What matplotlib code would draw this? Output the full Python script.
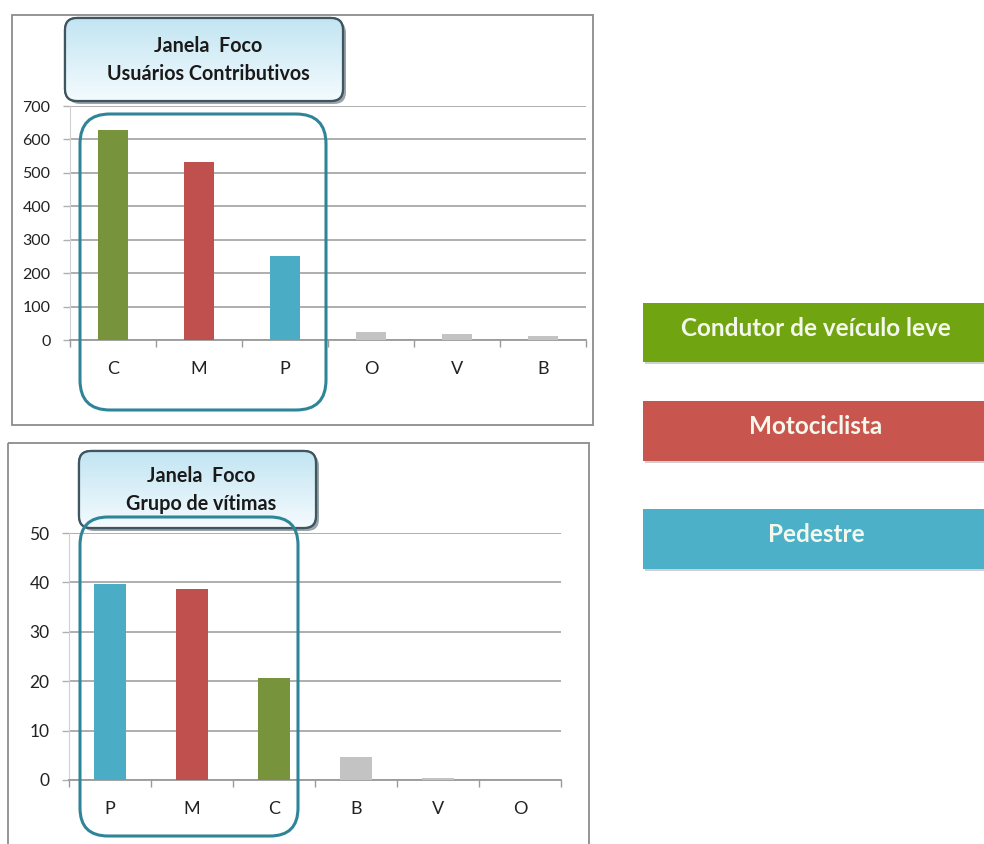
import numpy as np
import matplotlib
matplotlib.use("Agg")
import matplotlib.pyplot as plt
from matplotlib.patches import FancyBboxPatch, Rectangle
from matplotlib.colors import LinearSegmentedColormap

plt.rcParams['font.family'] = ['Lato', 'DejaVu Sans']

# ---- data ----
contrib_categories = ["C", "M", "P", "O", "V", "B"]
contrib_values = [628, 532, 250, 23, 17, 13]
contrib_ticks = [0, 100, 200, 300, 400, 500, 600, 700]

victim_categories = ["P", "M", "C", "B", "V", "O"]
victim_values = [39.6, 38.7, 20.6, 4.7, 0.5, 0]
victim_ticks = [0, 10, 20, 30, 40, 50]

legend_labels = ["Condutor de veículo leve", "Motociclista", "Pedestre"]

bar_colors = {"C": "#77933c", "M": "#c0504d", "P": "#4bacc6"}
other_color = "#c3c3c3"
legend_colors = ["#71a411", "#c9554f", "#4db0c9"]

W, H = 984, 844
fig = plt.figure(figsize=(W / 100, H / 100), dpi=100)
fig.patch.set_facecolor("white")


def px_rect(x0, y0, x1, y1):
    return [x0 / W, 1 - y1 / H, (x1 - x0) / W, (y1 - y0) / H]


# background layer in pixel units for the panel frames
bg = fig.add_axes([0, 0, 1, 1], zorder=0)
bg.set_xlim(0, W)
bg.set_ylim(H, 0)
bg.axis("off")

bg.add_patch(Rectangle((12, 15), 581, 410, fill=False, ec="#8c8c8c", lw=1.3))
bg.add_patch(Rectangle((8, 443), 581, 420, fill=False, ec="#8c8c8c", lw=1.3))


def draw_bars(rect, cats, vals, ticks, width, yfont):
    ax = fig.add_axes(rect, zorder=1)
    ax.set_facecolor("none")
    x = np.arange(len(cats))
    cols = [bar_colors.get(c, other_color) for c in cats]
    ax.bar(x, vals, width=width, color=cols, zorder=3)
    ax.set_xlim(-0.5, len(cats) - 0.5)
    ax.set_ylim(0, ticks[-1])
    ax.set_yticks(ticks)
    ax.set_yticklabels([str(t) for t in ticks], fontsize=yfont, color="#222222")
    ax.set_xticks(x)
    ax.set_xticklabels(cats, fontsize=13, color="#222222")
    ax.set_xticks(np.arange(len(cats) + 1) - 0.5, minor=True)
    ax.tick_params(axis="x", which="major", length=0, pad=15)
    ax.tick_params(axis="x", which="minor", length=5, color="#9a9a9a", width=1)
    ax.tick_params(axis="y", length=5, color="#b0b0b0", width=1, pad=9)
    ax.yaxis.grid(True, color="#a8a8a8", lw=1.3, zorder=0)
    ax.set_axisbelow(True)
    for s in ("top", "right"):
        ax.spines[s].set_visible(False)
    ax.spines["left"].set_color("#d0d0d0")
    ax.spines["bottom"].set_color("#9a9a9a")
    ax.spines["bottom"].set_linewidth(1.3)
    return ax


draw_bars(px_rect(70, 106, 586, 340), contrib_categories, contrib_values,
          contrib_ticks, 0.36, 11.5)
draw_bars(px_rect(69, 533, 561, 780), victim_categories, victim_values,
          victim_ticks, 0.39, 12.5)

# top layer for titles, focus outlines and the colour key
ov = fig.add_axes([0, 0, 1, 1], zorder=5)
ov.set_xlim(0, W)
ov.set_ylim(H, 0)
ov.axis("off")
ov.patch.set_alpha(0)

grad = np.linspace(0, 1, 100).reshape(-1, 1)
title_cmap = LinearSegmentedColormap.from_list("tb", ["#f4fbfe", "#c2e5f2"])


def title_box(x0, y0, x1, y1, text, size):
    style = "round,pad=0,rounding_size=12"
    ov.add_patch(FancyBboxPatch((x0 + 3, y0 + 3), x1 - x0, y1 - y0,
                                boxstyle=style, fc="#4a5a62", ec="none",
                                alpha=0.55))
    box = FancyBboxPatch((x0, y0), x1 - x0, y1 - y0, boxstyle=style,
                         fc="#d9eff7", ec="#3f5560", lw=1.6)
    ov.add_patch(box)
    im = ov.imshow(grad, cmap=title_cmap, aspect="auto",
                   extent=(x0, x1, y0, y1), zorder=2)
    im.set_clip_path(box)
    ov.add_patch(FancyBboxPatch((x0, y0), x1 - x0, y1 - y0, boxstyle=style,
                                fc="none", ec="#3f5560", lw=1.6, zorder=3))
    ov.text((x0 + x1) / 2 + 4, (y0 + y1) / 2 + 1, text, ha="center",
            va="center", fontsize=size, fontweight="bold", color="#1a1a1a",
            linespacing=1.5, zorder=4)


title_box(65, 18, 343, 101, "Janela  Foco\nUsuários Contributivos", 14.2)
title_box(79, 451, 316, 528, "Janela  Foco\nGrupo de vítimas", 14.2)

# focus outlines around the three main groups
for (x0, y0, x1, y1, r) in [(80, 114, 326, 410, 30), (80, 517, 298, 836, 28)]:
    ov.add_patch(FancyBboxPatch((x0, y0), x1 - x0, y1 - y0,
                                boxstyle=f"round,pad=0,rounding_size={r}",
                                fc="none", ec="#2f8598", lw=2.2, zorder=6))

# colour key
for (y0, y1), lab, col in zip([(303, 362), (401, 461), (509, 569)],
                              legend_labels, legend_colors):
    ov.add_patch(Rectangle((645, y0 + 2), 345, y1 - y0, fc="#d0d0d0",
                           ec="none", zorder=5))
    ov.add_patch(Rectangle((643, y0), 345, y1 - y0, fc=col, ec="none",
                           zorder=6))
    ov.text(816, (y0 + y1) / 2 - 4, lab, ha="center", va="center",
            fontsize=17.5, fontweight="bold", color="#f4f8ec", zorder=7)

fig.savefig("out.png", dpi=100, facecolor="white")
